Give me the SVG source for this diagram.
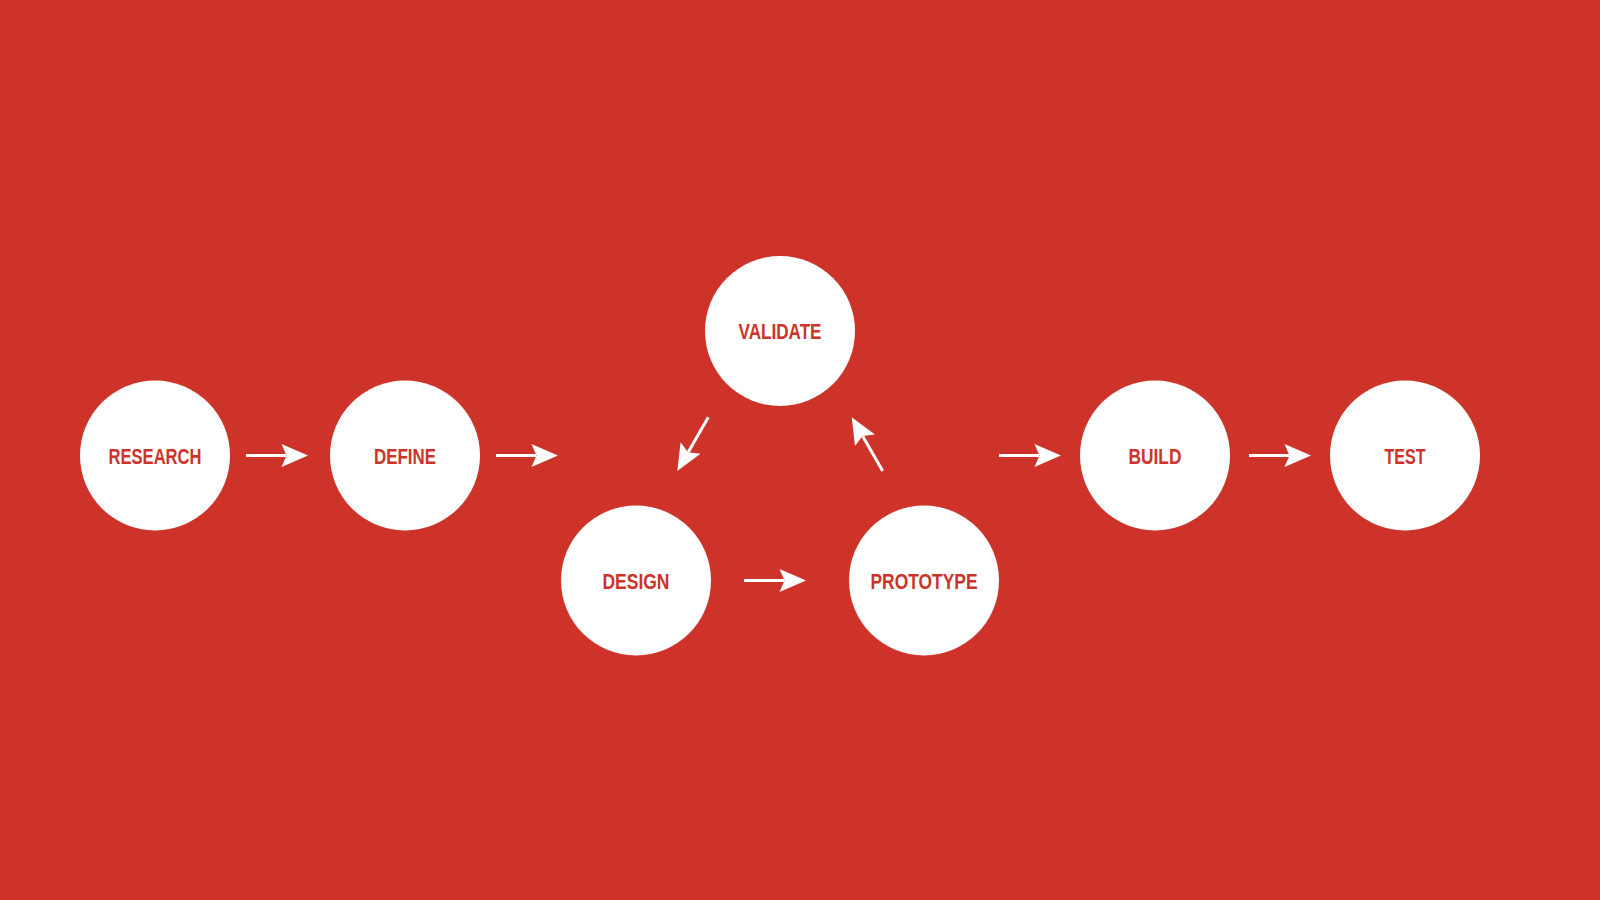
<svg xmlns="http://www.w3.org/2000/svg" xmlns:xlink="http://www.w3.org/1999/xlink" width="1600" height="900" viewBox="0 0 1600 900">
  <style>
    .node circle { fill: #ffffff; }
    .node text { fill: #CD3328; font-family: "Liberation Sans Narrow", "Liberation Sans", Arial, sans-serif; font-weight: bold; font-size: 22px; text-anchor: middle; }
  </style>
  <defs>
    <g id="arrow">
      <line x1="0" y1="0" x2="40" y2="0" stroke="#ffffff" stroke-width="3"/>
      <polygon points="62,0 35.5,-11.5 40.5,0 35.5,11.5" fill="#ffffff"/>
    </g>
  </defs>
  <rect width="1600" height="900" fill="#CD3328"/>
  <g id="connectors">
    <use xlink:href="#arrow" transform="translate(246,455.5)"/>
    <use xlink:href="#arrow" transform="translate(496,455.5)"/>
    <use xlink:href="#arrow" transform="translate(744,580.5)"/>
    <use xlink:href="#arrow" transform="translate(999,455.5)"/>
    <use xlink:href="#arrow" transform="translate(1249,455.5)"/>
    <use xlink:href="#arrow" transform="translate(708.3,417.3) rotate(120)"/>
    <use xlink:href="#arrow" transform="translate(882.7,471) rotate(-120)"/>
  </g>
  <g id="research" class="node">
    <circle cx="155" cy="455.5" r="75"/>
    <text x="155" y="463.5" textLength="93" lengthAdjust="spacingAndGlyphs">RESEARCH</text>
  </g>
  <g id="define" class="node">
    <circle cx="405" cy="455.5" r="75"/>
    <text x="405" y="463.5" textLength="62" lengthAdjust="spacingAndGlyphs">DEFINE</text>
  </g>
  <g id="validate" class="node">
    <circle cx="780" cy="331" r="75"/>
    <text x="780" y="338.5" textLength="83" lengthAdjust="spacingAndGlyphs">VALIDATE</text>
  </g>
  <g id="design" class="node">
    <circle cx="636" cy="580.5" r="75"/>
    <text x="636" y="588.5" textLength="67" lengthAdjust="spacingAndGlyphs">DESIGN</text>
  </g>
  <g id="prototype" class="node">
    <circle cx="924" cy="580.5" r="75"/>
    <text x="924" y="588.5" textLength="107" lengthAdjust="spacingAndGlyphs">PROTOTYPE</text>
  </g>
  <g id="build" class="node">
    <circle cx="1155" cy="455.5" r="75"/>
    <text x="1155" y="463.5" textLength="53" lengthAdjust="spacingAndGlyphs">BUILD</text>
  </g>
  <g id="test" class="node">
    <circle cx="1405" cy="455.5" r="75"/>
    <text x="1405" y="463.5" textLength="41" lengthAdjust="spacingAndGlyphs">TEST</text>
  </g>
</svg>
